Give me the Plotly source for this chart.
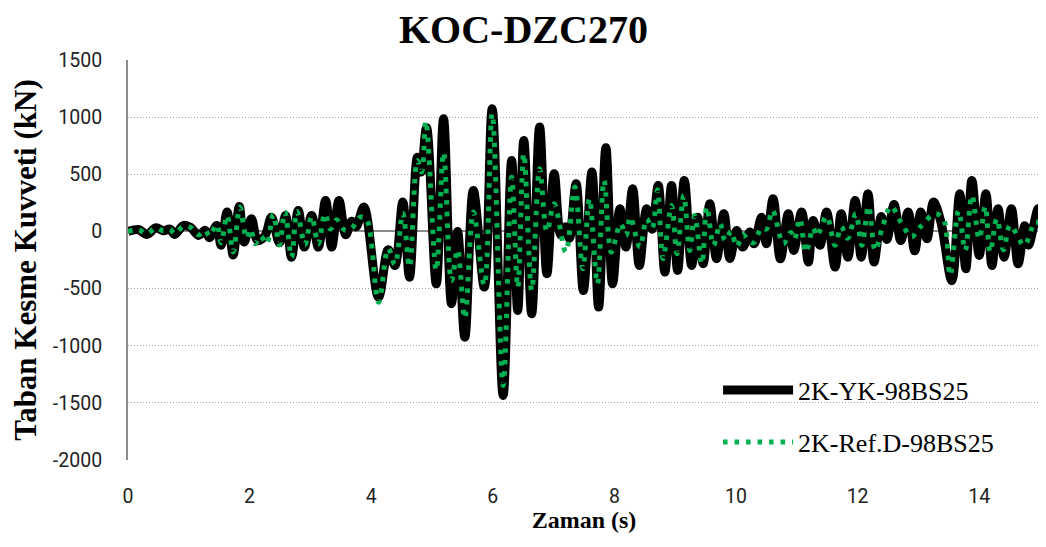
import plotly.graph_objects as go

# ---- data: extrema (time s, base shear kN) ----
t_yk = [0.00, 0.17, 0.31, 0.46, 0.58, 0.69, 0.77, 0.91, 1.03, 1.16, 1.27, 1.34, 1.46, 1.53,
        1.63, 1.73, 1.83, 1.91, 2.03, 2.13, 2.25, 2.36, 2.49, 2.59, 2.69, 2.80, 2.90, 3.02,
        3.13, 3.25, 3.35, 3.47, 3.58, 3.68, 3.75, 3.88, 4.12, 4.28, 4.39, 4.52, 4.63, 4.76,
        4.82, 4.91, 5.07, 5.19, 5.32, 5.42, 5.54, 5.68, 5.86, 5.99, 6.17, 6.31, 6.41, 6.51,
        6.64, 6.77, 6.89, 7.01, 7.12, 7.20, 7.26, 7.37, 7.49, 7.63, 7.74, 7.86, 7.97, 8.09,
        8.19, 8.30, 8.41, 8.53, 8.62, 8.72, 8.83, 8.94, 9.04, 9.15, 9.27, 9.37, 9.46, 9.57,
        9.68, 9.80, 9.90, 10.01, 10.11, 10.23, 10.30, 10.42, 10.50, 10.61, 10.73, 10.86,
        10.95, 11.08, 11.19, 11.27, 11.38, 11.49, 11.63, 11.73, 11.84, 11.96, 12.06, 12.17,
        12.27, 12.39, 12.48, 12.60, 12.71, 12.83, 12.94, 13.04, 13.14, 13.25, 13.37, 13.55,
        13.68, 13.78, 13.88, 14.00, 14.11, 14.21, 14.31, 14.41, 14.53, 14.64, 14.75, 14.81,
        14.97, 15.00]
v_yk = [0, 17, -26, 32, 5, 20, -26, 52, 35, -35, 10, -55, 52, -122,
        169, -206, 219, -93, 111, -79, -40, 125, -100, 140, -225, 184, -137, 140,
        -137, 271, -137, 271, -30, 90, 40, 213, -575, -160, -298, 257, -400, 650,
        520, 910, -458, 986, -633, 0, -925, 359, -487, 1073, -1435, 621, -691, 796,
        -720, 913, -370, 505, -30, 40, -60, 417, -516, 519, -662, 732, -458, 198,
        -137, 373, -298, 198, 20, 402, -356, 402, -341, 446, -298, 125, -283, 242,
        -239, 155, -236, 9, -137, -5, -108, 125, -108, 286, -239, 155,
        -166, 169, -268, 96, -122, 169, -312, 155, -225, 271, -225, 330,
        -268, 130, -70, 235, -80, 169, -170, 169, -64, 257, 82, -431,
        330, -327, 446, -210, 330, -298, 199, -225, 199, -283, 50, -120,
        199, 150]

t_ref = [0.00, 0.17, 0.31, 0.46, 0.58, 0.69, 0.77, 0.91, 1.03, 1.16, 1.27, 1.34, 1.46, 1.53,
         1.63, 1.73, 1.84, 1.95, 2.02, 2.09, 2.18, 2.28, 2.39, 2.49, 2.58, 2.69, 2.78, 2.91,
         3.02, 3.13, 3.24, 3.33, 3.43, 3.52, 3.59, 3.70, 3.82, 3.92, 4.12, 4.28, 4.39, 4.52,
         4.63, 4.76, 4.83, 4.90, 5.07, 5.19, 5.32, 5.42, 5.54, 5.68, 5.86, 5.99, 6.17, 6.31,
         6.41, 6.51, 6.64, 6.77, 6.89, 7.01, 7.20, 7.35, 7.48, 7.59, 7.72, 7.83, 7.95, 8.10,
         8.19, 8.26, 8.42, 8.53, 8.62, 8.71, 8.80, 8.94, 9.03, 9.14, 9.24, 9.32, 9.44, 9.52,
         9.63, 9.74, 9.82, 9.92, 10.01, 10.12, 10.20, 10.29, 10.42, 10.50, 10.60, 10.78,
         10.90, 10.96, 11.05, 11.15, 11.27, 11.33, 11.49, 11.63, 11.73, 11.84, 11.97, 12.07,
         12.18, 12.29, 12.40, 12.55, 12.72, 12.89, 12.98, 13.08, 13.27, 13.41, 13.52, 13.66,
         13.77, 13.88, 14.00, 14.10, 14.18, 14.29, 14.40, 14.51, 14.74, 14.92, 15.00]
v_ref = [0, 15, -20, 30, 5, 18, -20, 45, 35, -30, 10, -40, 60, -100,
         140, -180, 213, -60, 20, -108, -40, -108, 149, -116, 169, -225, 175, -116,
         131, -108, 155, 20, 102, 30, 9, 40, 125, 110, -620, -150, -290, 160,
         -310, 620, 520, 965, -340, 690, -430, -160, -760, 170, -470, 1030, -1348, 475,
         -490, 680, -516, 548, 0, 242, -181, 388, -327, 286, -458, 446, -181, 67,
         -35, 125, -137, 110, 30, 365, -239, 227, -195, 315, -166, 140, -283, 213,
         -122, 67, -79, 0, -131, -30, -80, -99, 30, 20, 184, -108,
         -10, -70, 111, -181, 30, -40, 131, -120, 40, -60, 155, -122,
         219, -166, 20, 219, 73, -49, 9, 67, 155, 111, -385, 180,
         -166, 315, -64, 219, -181, 111, -160, 53, -120, 82, 67]

name_yk = "2K-YK-98BS25"
name_ref = "2K-Ref.D-98BS25"
title_text = "KOC-DZC270"
x_title = "Zaman (s)"
y_title = "Taban Kesme Kuvveti (kN)"
x_ticks = [0, 2, 4, 6, 8, 10, 12, 14]
y_ticks = [1500, 1000, 500, 0, -500, -1000, -1500, -2000]
y_tick_labels = ["1500", "1000", "500", "0", "-500", "-1000", "-1500", "-2000"]

fig = go.Figure()
fig.add_trace(go.Scatter(
    x=t_yk, y=v_yk, mode="lines", name=name_yk, legend="legend", showlegend=True,
    line=dict(color="black", width=9, shape="spline", smoothing=1.0)))
fig.add_trace(go.Scatter(
    x=t_ref, y=v_ref, mode="lines", name=name_ref, legend="legend2", showlegend=True,
    line=dict(color="#00B050", width=5, shape="spline", smoothing=1.0, dash="4.5px,7px")))

serif = "Liberation Serif"
legend_common = dict(xanchor="left", yanchor="middle", bgcolor="rgba(0,0,0,0)",
                     font=dict(family=serif, size=26, color="black"), itemwidth=70,
                     visible=True)

# the page body adds an 8 px offset, so the figure is laid out 8 px up/left
fig.update_layout(
    width=1046, height=547,
    showlegend=True,
    margin=dict(l=120, r=14, t=52, b=95, autoexpand=False),
    paper_bgcolor="white", plot_bgcolor="white",
    legend=dict(x=0.647, y=0.175, **legend_common),
    legend2=dict(x=0.647, y=0.045, **legend_common),
    xaxis=dict(range=[0, 15], tickvals=x_ticks, showgrid=False, zeroline=False,
               showline=False, ticks="", ticklabelstandoff=22, automargin=False,
               tickfont=dict(family="Roboto", size=19.5, color="#222"),
               title=dict(text="<b>" + x_title + "</b>", standoff=4,
                          font=dict(family=serif, size=24, color="black"))),
    yaxis=dict(range=[-2000, 1500], tickvals=y_ticks, ticktext=y_tick_labels,
               showgrid=True, griddash="1px,2px",
               gridcolor="#A6A6A6", gridwidth=1, zeroline=True, zerolinecolor="#8C8C8C",
               zerolinewidth=2, showline=True, linecolor="#8C8C8C", linewidth=2,
               ticks="", ticklabelstandoff=20, automargin=False,
               tickfont=dict(family="Roboto", size=19.5, color="#222"),
               title=dict(text="<b>" + y_title + "</b>", standoff=14,
                          font=dict(family=serif, size=31, color="black"))),
    annotations=[dict(text="<b>" + title_text + "</b>", xref="paper", yref="paper",
                      x=(515 - 120) / 912, y=1 + (52 - 21) / 400,
                      xanchor="center", yanchor="middle", showarrow=False,
                      font=dict(family=serif, size=40, color="black"))],
)

fig.write_html("out.html")
